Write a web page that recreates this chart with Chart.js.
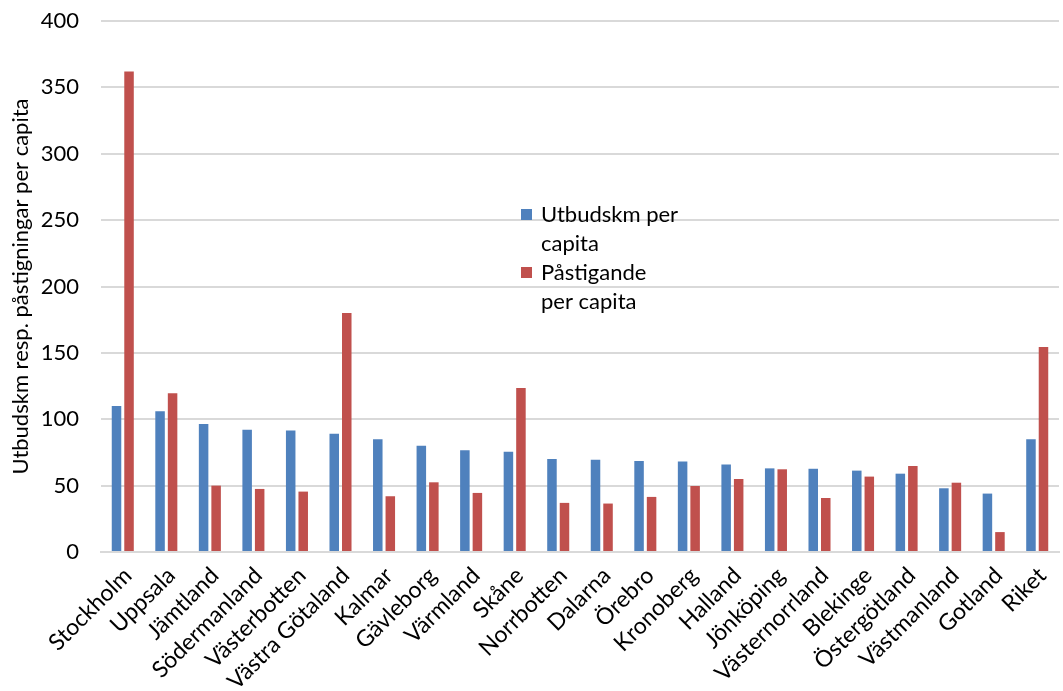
<!DOCTYPE html>
<html>
<head>
<meta charset="utf-8">
<script src="https://cdn.jsdelivr.net/npm/chart.js@4/dist/chart.umd.min.js"></script>
<style>
  html, body { margin: 0; padding: 0; background: #fff; }
  #wrap { width: 1063px; height: 691px; position: relative; }
</style>
</head>
<body>
<div id="wrap"><canvas id="c" width="1063" height="691"></canvas></div>
<script>
const regions = ["Stockholm", "Uppsala", "Jämtland", "Södermanland", "Västerbotten", "Västra Götaland",
  "Kalmar", "Gävleborg", "Värmland", "Skåne", "Norrbotten", "Dalarna", "Örebro", "Kronoberg",
  "Halland", "Jönköping", "Västernorrland", "Blekinge", "Östergötland", "Västmanland", "Gotland", "Riket"];

const utbudskm = [110, 106, 96.5, 92, 91.5, 89, 85, 80, 76.7, 75.5, 70, 69.5, 68.6, 68.1,
  66, 63, 62.7, 61.3, 59, 48, 44, 85];

const pastigande = [362, 119.5, 50, 47.5, 45.5, 180, 42, 52.5, 44.5, 123.5, 37, 36.5, 41.5, 49.7,
  55, 62.3, 40.7, 56.8, 64.8, 52.2, 15, 154.5];

const yTicks = [0, 50, 100, 150, 200, 250, 300, 350, 400];

const legendItems = [
  { lines: ["Utbudskm per", "capita"], color: "#4F81BD" },
  { lines: ["Påstigande", "per capita"], color: "#C0504D" }
];

const FONT = "Lato, 'Open Sans', sans-serif";

// Legend placed inside the plot area, with wrapped labels
const boxLegend = {
  id: "boxLegend",
  afterDraw(chart) {
    const ctx = chart.ctx;
    ctx.save();
    ctx.font = "22px " + FONT;
    ctx.textBaseline = "middle";
    let y = 215;
    const lineH = 29;
    legendItems.forEach(item => {
      ctx.fillStyle = item.color;
      ctx.fillRect(521, y - 6, 11, 11);
      ctx.fillStyle = "#000";
      item.lines.forEach(line => {
        ctx.fillText(line, 541, y);
        y += lineH;
      });
    });
    ctx.restore();
  }
};

new Chart(document.getElementById("c"), {
  type: "bar",
  data: {
    labels: regions,
    datasets: [
      { label: "Utbudskm per capita", data: utbudskm, backgroundColor: "#4F81BD", borderWidth: 0 },
      { label: "Påstigande per capita", data: pastigande, backgroundColor: "#C0504D", borderWidth: 0 }
    ]
  },
  options: {
    responsive: false,
    animation: false,
    layout: { padding: { top: 21, right: 4, left: 0, bottom: 0 } },
    datasets: { bar: { categoryPercentage: 0.575, barPercentage: 0.76 } },
    plugins: { legend: { display: false }, tooltip: { enabled: false } },
    scales: {
      x: {
        grid: { display: false, drawTicks: false },
        border: { display: true, color: "#d9d9d9", width: 2 },
        ticks: {
          color: "#000", font: { family: FONT, size: 23 },
          maxRotation: 45, minRotation: 45, autoSkip: false, padding: 10, labelOffset: 5
        },
        afterFit(scale) { scale.height = 139; scale.paddingRight = 0; }
      },
      y: {
        min: 0, max: 400,
        afterBuildTicks(scale) { scale.ticks = yTicks.map(v => ({ value: v })); },
        grid: { color: "#d9d9d9", lineWidth: 2, drawTicks: false },
        border: { display: false },
        ticks: { color: "#000", font: { family: FONT, size: 22 }, padding: 22 },
        title: {
          display: true, text: "Utbudskm resp. påstigningar per capita",
          color: "#000", font: { family: FONT, size: 22 }, padding: { top: 8, bottom: 0 }
        },
        afterFit(scale) { scale.width = 101; scale.paddingTop = 0; scale.paddingBottom = 0; }
      }
    }
  },
  plugins: [boxLegend]
});
</script>
</body>
</html>
